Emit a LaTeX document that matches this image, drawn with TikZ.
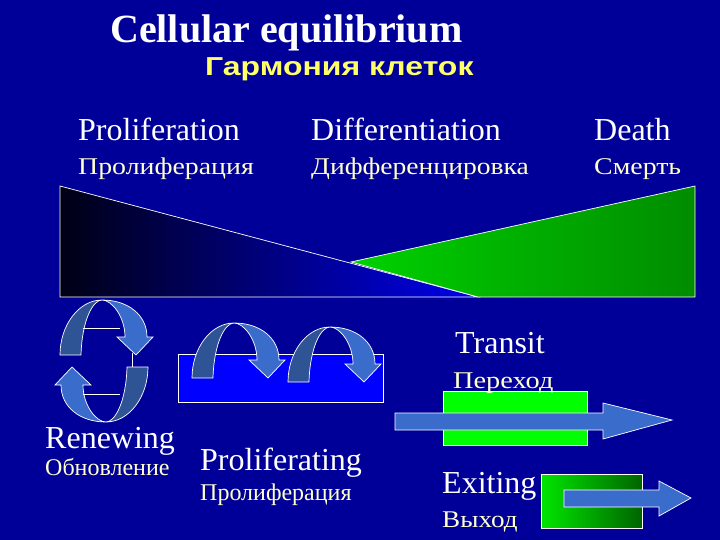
\documentclass[tikz,border=0pt]{standalone}
\usepackage{graphicx}
\usepackage{fontspec}
\setmainfont{Liberation Serif}
\newfontfamily\sansb{Liberation Sans}
\definecolor{bg}{RGB}{0,0,153}
\definecolor{ruyel}{RGB}{255,255,204}
\definecolor{titleyel}{RGB}{255,255,102}
\definecolor{arrdark}{RGB}{46,84,150}
\definecolor{arrlight}{RGB}{58,108,204}
\definecolor{boxblue}{RGB}{0,0,255}
\definecolor{brgreen}{RGB}{0,255,0}
\definecolor{triA}{RGB}{0,0,20}
\definecolor{triB}{RGB}{0,0,235}
\definecolor{grnA}{RGB}{0,210,0}
\definecolor{grnB}{RGB}{0,140,0}
\definecolor{exA}{RGB}{0,230,0}
\definecolor{exB}{RGB}{0,100,0}
\tikzset{
  outl/.style={draw=white,line width=0.7pt},
  entext/.style={anchor=base west,inner sep=0pt,text=white,font=\fontsize{32}{36}\selectfont},
  rutext/.style={anchor=base west,inner sep=0pt,text=ruyel,font=\fontsize{24}{28}\selectfont},
  curvarrow/.pic={
    \filldraw[fill=arrdark,outl] (0,0) .. controls (0,-30) and (19,-55) .. (42,-55)
      .. controls (33,-55) and (22,-35) .. (21,0) -- cycle;
    \filldraw[fill=arrlight,outl] (42,-55) .. controls (68,-55) and (87,-40) .. (87,-18)
      -- (93,-18) -- (76,0) -- (57,-18) -- (65,-18)
      .. controls (65,-38) and (52,-55) .. (42,-55) -- cycle;
  },
  straightarrow/.style={fill=arrlight,outl}
}
\begin{document}
\begin{tikzpicture}[x=1pt,y=-1pt]
\useasboundingbox (0,0) rectangle (720,540);
\fill[bg] (0,0) rectangle (720,540);

% titles
\node[anchor=base west,inner sep=0pt,text=white,font=\fontsize{40}{46}\selectfont\bfseries] (title) at (110,43) {Cellular equilibrium};
\node[anchor=base west,inner sep=0pt,text=titleyel,font=\sansb\fontsize{26}{30}\selectfont\bfseries] (subtitle) at (205,76) {\scalebox{1.23}[1]{Гармония клеток}};

% top labels
\node[entext] (prolif) at (78,141) {Proliferation};
\node[rutext] (prolifru) at (78,175) {\scalebox{1.16}[1]{Пролиферация}};
\node[entext] (diff) at (311,141) {Differentiation};
\node[rutext] (diffru) at (311,175) {\scalebox{1.15}[1]{Дифференцировка}};
\node[entext] (death) at (594,141) {Death};
\node[rutext] (deathru) at (594,175) {\scalebox{1.16}[1]{Смерть}};

% triangles
\shadedraw[left color=triA,right color=triB,outl] (60,186) -- (478,297) -- (60,297) -- cycle;
\shadedraw[left color=grnA,right color=grnB,outl] (351,262) -- (695,186) -- (695,297) -- (478,297) -- cycle;

% renewing cycle
\pic at (60,355) {curvarrow};
\pic[rotate=180] at (148,367) {curvarrow};
\draw[outl] (83,328) -- (120,328);
\draw[outl] (83,394) -- (120,394);
\draw[outl] (132,353) -- (132,367);

% proliferating box
\filldraw[fill=boxblue,outl] (178,354) rectangle (383,402);
\pic at (192,378) {curvarrow};
\pic at (288,382) {curvarrow};

% transit
\filldraw[fill=brgreen,outl] (443,391) rectangle (587,445);
\filldraw[straightarrow] (395,413) -- (603,413) -- (603,403) -- (672,420) -- (603,439) -- (603,430) -- (395,430) -- cycle;

% exiting
\shadedraw[left color=exA,right color=exB,outl] (541,474) rectangle (642,528);
\filldraw[straightarrow] (564,490) -- (659,490) -- (659,481) -- (691,498) -- (659,516) -- (659,507) -- (564,507) -- cycle;

% lower labels
\node[entext] (transit) at (455,353) {Transit};
\node[rutext] (transitru) at (453,388) {\scalebox{1.18}[1]{Переход}};
\node[entext] (exiting) at (442,493) {Exiting};
\node[rutext] (exitingru) at (442,527) {\scalebox{1.13}[1]{Выход}};
\node[entext] (renew) at (45,448) {Renewing};
\node[rutext] (renewru) at (45,475) {Обновление};
\node[entext] (prolifing) at (200,470) {Proliferating};
\node[rutext] (prolifingru) at (200,500) {Пролиферация};
\end{tikzpicture}
\end{document}
